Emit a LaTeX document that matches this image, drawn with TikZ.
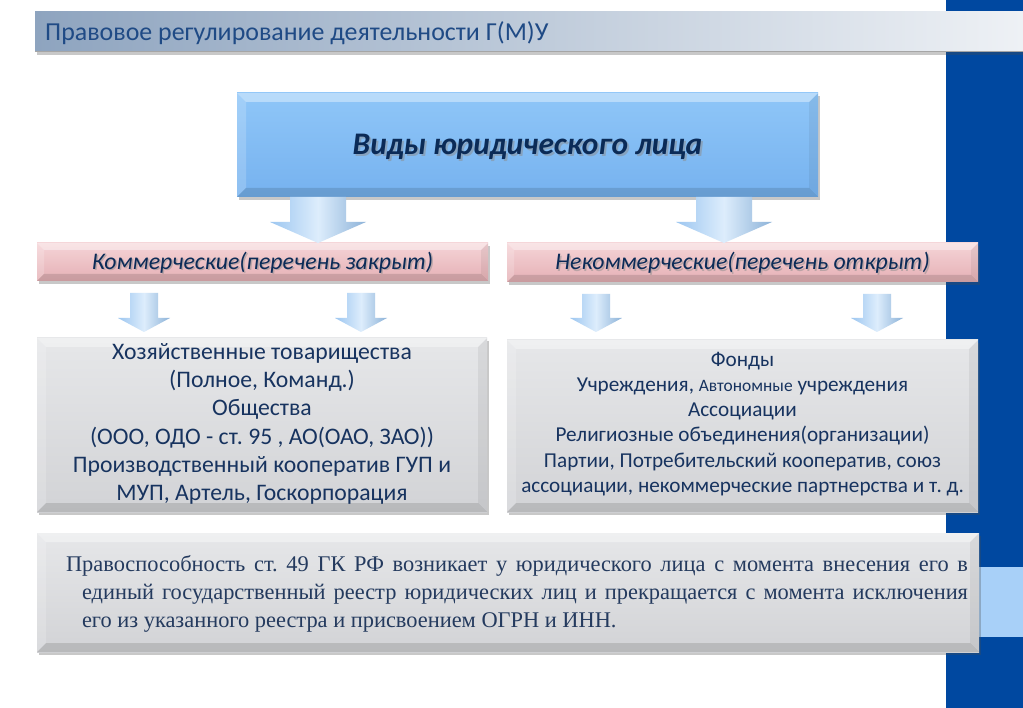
\documentclass[tikz,border=0pt]{standalone}
\usepackage{fontspec}
\setmainfont{Carlito}
\newfontfamily\garfont{Liberation Serif}
\usetikzlibrary{calc,shadows}
\definecolor{barblue}{HTML}{0048A0}
\definecolor{bandblue}{HTML}{A8D0F8}
\definecolor{navy}{HTML}{0B2B57}
\definecolor{txtblue}{HTML}{17335F}
\definecolor{titleblue}{HTML}{1F4A85}
\definecolor{bottxt}{HTML}{243A5E}
\definecolor{ttlL}{HTML}{8EA4BF}
\definecolor{ttlR}{HTML}{EEF1F5}
\definecolor{topT}{HTML}{8FC6F8}
\definecolor{topB}{HTML}{76B2EF}
\definecolor{pinkT}{HTML}{F5D4D7}
\definecolor{pinkB}{HTML}{E5B0B5}
\definecolor{grayT}{HTML}{E6E7E9}
\definecolor{grayB}{HTML}{D2D3D6}
\definecolor{arrE}{HTML}{9CC6F0}
\definecolor{arrM}{HTML}{DDEDFC}
\tikzset{
  boxbase/.style={inner sep=0pt, outer sep=0pt, draw=none,
    drop shadow={shadow xshift=2pt, shadow yshift=-3pt, opacity=0.3, fill=black!70}},
  topbox/.style={boxbase, top color=topT, bottom color=topB},
  pinkbox/.style={boxbase, top color=pinkT, bottom color=pinkB},
  graybox/.style={boxbase, top color=grayT, bottom color=grayB},
  arrowsh/.style={left color=arrE, right color=arrE!90!black, middle color=arrM},
  txtshadow/.style={text=black!45, opacity=0.5},
}
% bevel strips on a rectangular node
\newcommand\bvl[2]{%
  \fill[white,opacity=.38] (#1.north west) -- (#1.north east) -- ([xshift=-#2pt,yshift=-#2pt]#1.north east) -- ([xshift=#2pt,yshift=-#2pt]#1.north west) -- cycle;
  \fill[white,opacity=.18] (#1.north west) -- ([xshift=#2pt,yshift=-#2pt]#1.north west) -- ([xshift=#2pt,yshift=#2pt]#1.south west) -- (#1.south west) -- cycle;
  \fill[black,opacity=.06] (#1.north east) -- ([xshift=-#2pt,yshift=-#2pt]#1.north east) -- ([xshift=-#2pt,yshift=#2pt]#1.south east) -- (#1.south east) -- cycle;
  \fill[black,opacity=.12] (#1.south west) -- (#1.south east) -- ([xshift=-#2pt,yshift=#2pt]#1.south east) -- ([xshift=#2pt,yshift=#2pt]#1.south west) -- cycle;
}
% block arrow: from, to, x, shaft half, head half, head length, gap top, gap bottom
\newcommand\barrow[8]{%
  \shade[arrowsh] let \p1=(#1.south), \p2=(#2.north) in
    ({#3pt-#4pt},{\y1-#7pt}) -- ({#3pt+#4pt},{\y1-#7pt}) -- ({#3pt+#4pt},{\y2+#8pt+#6pt}) --
    ({#3pt+#5pt},{\y2+#8pt+#6pt}) -- ({#3pt},{\y2+#8pt}) -- ({#3pt-#5pt},{\y2+#8pt+#6pt}) --
    ({#3pt-#4pt},{\y2+#8pt+#6pt}) -- cycle;
}
\begin{document}
\frenchspacing
\begin{tikzpicture}[x=1pt,y=-1pt]
\useasboundingbox (0,0) rectangle (1023,708);
\fill[white] (0,0) rectangle (1023,708);
\fill[barblue] (946,0) rectangle (1023,708);
\fill[bandblue] (946,567) rectangle (1023,637);

% title bar
\node[boxbase, left color=ttlL, right color=ttlR, minimum width=988pt, minimum height=40pt] (title) at (529,32) {};
\draw[black!35, line width=1pt] (title.south west) -- (title.south east);
\node[anchor=west, inner sep=0pt, text=titleblue, font=\fontsize{25.9pt}{30pt}\selectfont] (ttl) at (45,33) {Правовое регулирование деятельности Г(М)У};

% top box
\node[topbox, minimum width=581pt, minimum height=104pt] (top) at (527.5,145) {};
\bvl{top}{9}
\node[txtshadow, font=\fontsize{31.4pt}{36pt}\selectfont\bfseries\itshape] (topsh) at (529.5,149) {Виды юридического лица};
\node[text=navy, font=\fontsize{31.4pt}{36pt}\selectfont\bfseries\itshape] (toptxt) at (527.5,147) {Виды юридического лица};

% pink boxes
\node[pinkbox, minimum width=451pt, minimum height=38pt] (pl) at (262.5,262) {};
\bvl{pl}{7}
\node[txtshadow, font=\fontsize{23.8pt}{28pt}\selectfont\itshape] (plsh) at (264,264) {Коммерческие(перечень закрыт)};
\node[text=navy, font=\fontsize{23.8pt}{28pt}\selectfont\itshape] (pltxt) at (262.5,262.5) {Коммерческие(перечень закрыт)};

\node[pinkbox, minimum width=471pt, minimum height=39pt] (pr) at (742.5,262.5) {};
\bvl{pr}{7}
\node[txtshadow, font=\fontsize{23.8pt}{28pt}\selectfont\itshape] (prsh) at (744,264.5) {Некоммерческие(перечень открыт)};
\node[text=navy, font=\fontsize{23.8pt}{28pt}\selectfont\itshape] (prtxt) at (742.5,263) {Некоммерческие(перечень открыт)};

% gray boxes
\node[graybox, minimum width=450pt, minimum height=174pt] (gl) at (262,425) {};
\bvl{gl}{9}
\node[text=txtblue, align=center, font=\fontsize{23.7pt}{28.2pt}\selectfont] (gltxt) at (262,424) {Хозяйственные товарищества\\(Полное, Команд.)\\Общества\\(ООО, ОДО - ст. 95 , АО(ОАО, ЗАО))\\Производственный кооператив ГУП и\\МУП, Артель, Госкорпорация};

\node[graybox, minimum width=471pt, minimum height=172pt] (gr) at (742.5,426) {};
\bvl{gr}{9}
\node[text=txtblue, align=center, font=\fontsize{21.2pt}{25.2pt}\selectfont] (grtxt) at (742.5,424) {Фонды\\Учреждения, {\fontsize{17.4pt}{25.2pt}\selectfont Автономные} учреждения\\Ассоциации\\Религиозные объединения(организации)\\Партии, Потребительский кооператив, союз\\ассоциации, некоммерческие партнерства и т. д.};

% bottom box
\node[graybox, minimum width=942pt, minimum height=119pt] (bot) at (508,592.5) {};
\bvl{bot}{9}
\node[text=bottxt, inner sep=0pt] (bottxt) at (517,594) {\parbox{902pt}{\garfont\frenchspacing\fontsize{22.4pt}{28pt}\selectfont\noindent\hangindent=16pt\hangafter=1
Правоспособность ст. 49 ГК РФ возникает у юридического лица с момента внесения его в\linebreak единый государственный реестр юридических лиц и прекращается с момента исключения\linebreak его из указанного реестра и присвоением ОГРН и ИНН.}};

% arrows
\barrow{top}{pl}{318}{28}{48}{21}{0}{0}
\barrow{top}{pr}{724}{28}{48}{21}{0}{0}
\barrow{pl}{gl}{144}{14}{26}{14}{12}{6}
\barrow{pl}{gl}{361}{14}{26}{14}{12}{6}
\barrow{pr}{gr}{596}{14}{26}{14}{12}{8}
\barrow{pr}{gr}{877}{14}{26}{14}{12}{8}
\end{tikzpicture}
\end{document}
